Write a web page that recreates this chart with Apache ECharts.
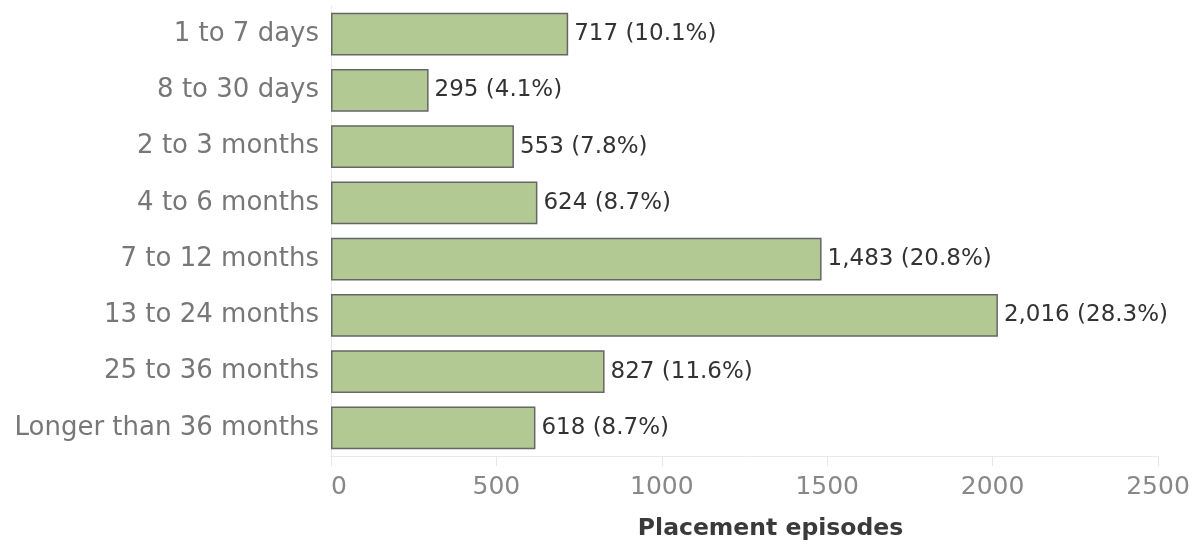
<!DOCTYPE html>
<html><head><meta charset="utf-8">
<script src="https://cdn.jsdelivr.net/npm/echarts@6/dist/echarts.min.js"></script>
<style>html,body{margin:0;padding:0;background:#fff}#c{width:1203px;height:546px}</style>
</head><body><div id="c"></div>
<script>
const categories = ["1 to 7 days","8 to 30 days","2 to 3 months","4 to 6 months","7 to 12 months","13 to 24 months","25 to 36 months","Longer than 36 months"];
const episodes = [717,295,553,624,1483,2016,827,618];
const percents = ["10.1%","4.1%","7.8%","8.7%","20.8%","28.3%","11.6%","8.7%"];
const xTicks = [0,500,1000,1500,2000,2500];

const chart = echarts.init(document.getElementById('c'));
const font = "'DejaVu Sans', sans-serif";
chart.setOption({
  animation:false,
  grid:{left:331,right:45,top:6,bottom:88,containLabel:false},
  xAxis:{type:'value',min:xTicks[0],max:xTicks[xTicks.length-1],interval:500,
    name:'Placement episodes',nameLocation:'middle',nameGap:61,
    nameTextStyle:{fontFamily:font,fontSize:23.5,color:'#3a3a3a',fontWeight:'bold',padding:[0,0,0,52]},
    axisLine:{show:true,lineStyle:{color:'#eaeaea',width:1}},
    axisTick:{show:true,length:10,lineStyle:{color:'#e6e6e6'}},
    splitLine:{show:false},
    axisLabel:{fontFamily:font,fontSize:25,color:'#888',margin:19,alignMinLabel:'left',formatter:v=>String(v)}
  },
  yAxis:{type:'category',data:categories,inverse:true,
    axisLine:{show:true,lineStyle:{color:'#eaeaea'}},axisTick:{show:false},
    axisLabel:{fontFamily:font,fontSize:26,color:'#777',margin:12}
  },
  series:[{type:'bar',data:episodes,barCategoryGap:'24%',
    itemStyle:{color:'#b2c994',borderColor:'#666',borderWidth:1.5},
    label:{show:true,position:'right',distance:6,fontFamily:font,fontSize:23,color:'#333',
      formatter:p=>p.value.toLocaleString('en-US')+' ('+percents[p.dataIndex]+')'}
  }]
});
</script></body></html>
